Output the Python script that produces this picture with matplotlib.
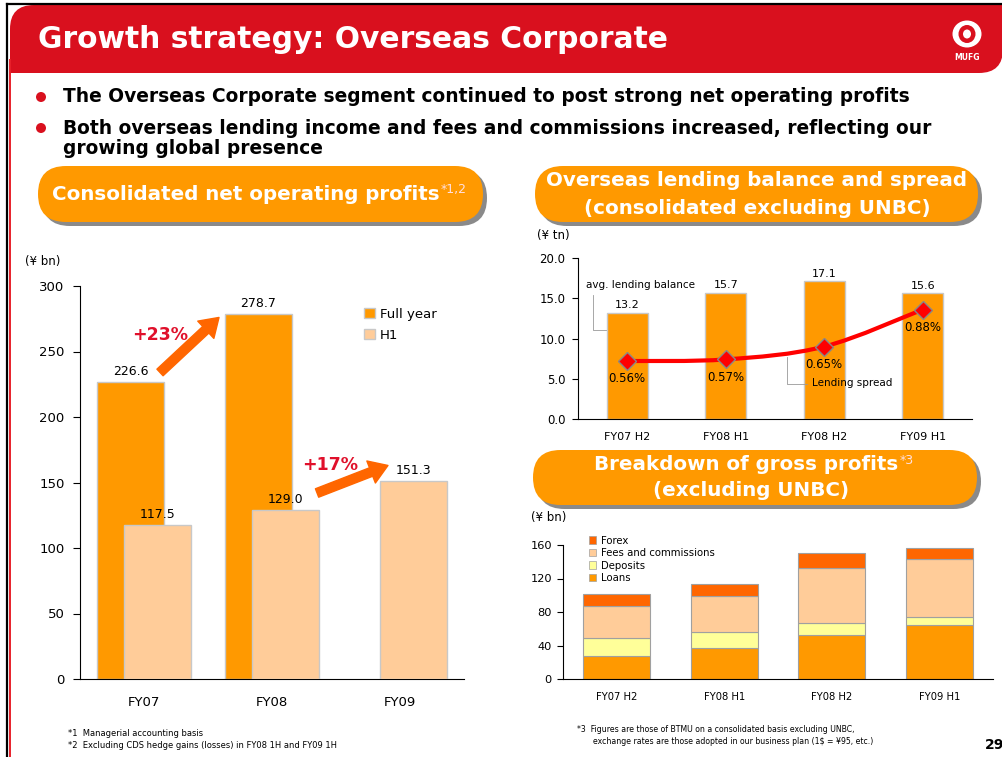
import matplotlib
matplotlib.use("Agg")
import matplotlib.pyplot as plt
from matplotlib.patches import FancyBboxPatch, Rectangle, Ellipse, Circle, Patch
from matplotlib.path import Path
from matplotlib.patches import PathPatch
import numpy as np

W, H = 1003, 757

# ---- data ----
years = ["FY07", "FY08", "FY09"]
full_year = [226.6, 278.7, np.nan]
first_half = [117.5, 129.0, 151.3]

periods = ["FY07 H2", "FY08 H1", "FY08 H2", "FY09 H1"]
lending_balance = [13.2, 15.7, 17.1, 15.6]
lending_spread = [0.56, 0.57, 0.65, 0.88]

gp_loans = [28, 37, 53, 65]
gp_deposits = [21, 19, 14, 9]
gp_fees = [38, 43, 65, 69]
gp_forex = [14, 14, 19, 14]

RED = "#D9101E"
ORANGE = "#FF9900"
PEACH = "#FFCC99"
YELLOW = "#FFFF99"
DARK_ORANGE = "#FF6600"
PCT_RED = "#E0102B"
EDGE = "#C8C8C8"

plt.rcParams["font.family"] = "DejaVu Sans"

fig = plt.figure(figsize=(W / 100, H / 100), dpi=100)
renderer = fig.canvas.get_renderer()

# overlay in pixel coordinates (y down)
ov = fig.add_axes([0, 0, 1, 1], zorder=0)
ov.set_xlim(0, W)
ov.set_ylim(H, 0)
ov.axis("off")


def px_rect(x0, y_top, x1, y_bot):
    return [x0 / W, 1 - y_bot / H, (x1 - x0) / W, (y_bot - y_top) / H]


def fit(t, width_px):
    bb = t.get_window_extent(renderer)
    t.set_fontsize(t.get_fontsize() * width_px / bb.width)
    return t.get_fontsize()


# frame lines
ov.plot([7, W], [4, 4], color="black", lw=1.6)
ov.plot([7, 7], [4, H], color="black", lw=1.6)
ov.plot([10.5, 10.5], [60, H], color="#E8202A", lw=1.4)

# header band
ov.add_patch(FancyBboxPatch((10, 5), W - 10, 68, boxstyle="round,pad=0,rounding_size=24",
                            fc=RED, ec="none"))
ov.add_patch(Rectangle((960, 5), W - 960, 40, fc=RED, ec="none"))
ov.add_patch(Rectangle((10, 40), 40, 33, fc=RED, ec="none"))
title = ov.text(38, 40, "Growth strategy: Overseas Corporate", color="white",
                fontsize=20, fontweight="bold", va="center", ha="left")
fit(title, 630)

# logo
ov.add_patch(Ellipse((967, 34), 29, 27, fc="white", ec="none"))
ov.add_patch(Ellipse((967, 34), 17, 18, fc=RED, ec="none"))
ov.add_patch(Ellipse((967, 34), 8, 9, fc="white", ec="none"))
ov.text(967, 57, "MUFG", color="white", fontsize=5.5, fontweight="bold",
        ha="center", va="center")

# bullets
for yy in (97, 128):
    ov.add_patch(Circle((41, yy), 5, fc=RED, ec="none"))
b1 = ov.text(63, 97, "The Overseas Corporate segment continued to post strong net operating profits",
             fontsize=13, fontweight="bold", va="center")
bs = fit(b1, 839)
ov.text(63, 128, "Both overseas lending income and fees and commissions increased, reflecting our",
        fontsize=bs, fontweight="bold", va="center")
ov.text(63, 149, "growing global presence", fontsize=bs, fontweight="bold", va="center")


def pill(x0, y0, x1, y1):
    h = y1 - y0
    ov.add_patch(FancyBboxPatch((x0 + 4, y0 + 4), x1 - x0, h,
                                boxstyle=f"round,pad=0,rounding_size={h / 2}",
                                fc="#8A8A8A", ec="none"))
    ov.add_patch(FancyBboxPatch((x0, y0), x1 - x0, h,
                                boxstyle=f"round,pad=0,rounding_size={h / 2}",
                                fc=ORANGE, ec="none"))


def superscript(t, s):
    bb = t.get_window_extent(renderer)
    ov.text(bb.x1 + 1, H - bb.y1 - 1, s, color="#FFE0E0", fontsize=9, va="top", ha="left")


pill(38, 166, 483, 222)
t1 = ov.text(52, 194, "Consolidated net operating profits", color="white",
             fontsize=13, fontweight="bold", va="center", ha="left")
ps = fit(t1, 385)
superscript(t1, "*1,2")

pill(535, 166, 978, 222)
t2 = ov.text(757, 181, "Overseas lending balance and spread", color="white",
             fontsize=13, fontweight="bold", va="center", ha="center")
ps2 = fit(t2, 418)
ov.text(757, 208, "(consolidated excluding UNBC)", color="white",
        fontsize=ps2, fontweight="bold", va="center", ha="center")

pill(533, 450, 977, 505)
t3 = ov.text(594, 465, "Breakdown of gross profits", color="white",
             fontsize=ps2, fontweight="bold", va="center", ha="left")
superscript(t3, "*3")
ov.text(751, 491, "(excluding UNBC)", color="white",
        fontsize=ps2, fontweight="bold", va="center", ha="center")

# unit labels and footnotes
ov.text(25, 262, "(¥ bn)", fontsize=8.5, va="center")
ov.text(537, 235, "(¥ tn)", fontsize=8.5, va="center")
ov.text(531, 518, "(¥ bn)", fontsize=8.5, va="center")
ov.text(68, 733, "*1  Managerial accounting basis", fontsize=6, va="center")
ov.text(68, 745, "*2  Excluding CDS hedge gains (losses) in FY08 1H and FY09 1H", fontsize=6, va="center")
ov.text(577, 729, "*3  Figures are those of BTMU on a consolidated basis excluding UNBC,",
        fontsize=5.6, va="center")
ov.text(593, 741, "exchange rates are those adopted in our business plan (1$ = ¥95, etc.)",
        fontsize=5.6, va="center")
ov.text(985, 745, "29", fontsize=10, fontweight="bold", va="center")

# ---- left chart: consolidated net operating profits ----
ax1 = fig.add_axes(px_rect(80, 286, 464, 679), zorder=1)
ax1.patch.set_alpha(0)
x = np.arange(len(years))
bw = 0.53
off = 0.105
ax1.bar(x - off, full_year, bw, color=ORANGE, edgecolor=EDGE, lw=1, zorder=2)
ax1.bar(x + off, first_half, bw, color=PEACH, edgecolor=EDGE, lw=1, zorder=3)
for xi, v in zip(x, full_year):
    if not np.isnan(v):
        ax1.annotate(f"{v:.1f}", (xi - off, v), xytext=(0, 3), textcoords="offset points",
                     ha="center", va="bottom", fontsize=9)
for xi, v in zip(x, first_half):
    ax1.annotate(f"{v:.1f}", (xi + off, v), xytext=(0, 3), textcoords="offset points",
                 ha="center", va="bottom", fontsize=9, zorder=4)
ax1.set_xlim(-0.5, 2.5)
ax1.set_ylim(0, 300)
ax1.set_yticks(range(0, 301, 50))
ax1.set_xticks(x)
ax1.set_xticklabels(years)
ax1.tick_params(axis="x", length=0, pad=12, labelsize=9.5)
ax1.tick_params(axis="y", length=5, direction="out", labelsize=9.5, pad=6)
for s in ("top", "right"):
    ax1.spines[s].set_visible(False)
ax1.legend(handles=[Patch(fc=ORANGE, ec=EDGE), Patch(fc=PEACH, ec=EDGE)],
           labels=["Full year", "H1"], loc="upper left", bbox_to_anchor=(0.74, 0.945),
           frameon=False, fontsize=9.5, handlelength=0.8, handleheight=0.8,
           handletextpad=0.4, labelspacing=0.6, borderpad=0, borderaxespad=0)

arrow_style = "simple,head_width=1.7,head_length=1.3,tail_width=0.65"
ax1.annotate("", xy=(0.586, 276), xytext=(0.125, 234),
             arrowprops=dict(arrowstyle=arrow_style, color=DARK_ORANGE, mutation_scale=10,
                             shrinkA=0, shrinkB=0), zorder=5)
ax1.annotate("", xy=(1.906, 163), xytext=(1.352, 142),
             arrowprops=dict(arrowstyle=arrow_style, color=DARK_ORANGE, mutation_scale=10,
                             shrinkA=0, shrinkB=0), zorder=5)
ax1.text(0.125, 262.5, "+23%", color=PCT_RED, fontsize=12.5, fontweight="bold",
         ha="center", va="center", zorder=5)
ax1.text(1.453, 163.5, "+17%", color=PCT_RED, fontsize=12.5, fontweight="bold",
         ha="center", va="center", zorder=5)

# ---- top right: lending balance and spread ----
ax2 = fig.add_axes(px_rect(578, 258, 972, 419), zorder=1)
ax2.patch.set_alpha(0)
xp = np.arange(len(periods))
ax2.bar(xp, lending_balance, 0.42, color=ORANGE, edgecolor=EDGE, lw=1, zorder=2)
for xi, v in zip(xp, lending_balance):
    ax2.annotate(f"{v:.1f}", (xi, v), xytext=(0, 2), textcoords="offset points",
                 ha="center", va="bottom", fontsize=8)
ax2.set_xlim(-0.5, 3.5)
ax2.set_ylim(0, 20)
ax2.set_yticks(np.arange(0, 20.1, 5))
ax2.set_yticklabels([f"{v:.1f}" for v in np.arange(0, 20.1, 5)])
ax2.set_xticks(xp)
ax2.set_xticklabels(periods)
ax2.tick_params(axis="x", length=0, pad=9, labelsize=8)
ax2.tick_params(axis="y", length=4, direction="out", labelsize=8.5, pad=5)
for s in ("top", "right"):
    ax2.spines[s].set_visible(False)
ax2.text(-0.42, 16.6, "avg. lending balance", fontsize=7.5, ha="left", va="center")
ax2.plot([-0.349, -0.349, -0.215], [15.4, 11.06, 11.06], color="#999999", lw=0.6)
ax2.text(1.876, 4.47, "Lending spread", fontsize=7.5, ha="left", va="center")
ax2.plot([1.62, 1.62, 1.824], [7.7, 4.35, 4.35], color="#999999", lw=0.6)

ax2b = ax2.twinx()
ax2b.set_ylim(0.2, 1.2)
ax2b.axis("off")
# smooth curve through the spread points (Catmull-Rom as cubic Bezier)
pts = np.column_stack([xp, lending_spread]).astype(float)
verts = [tuple(pts[0])]
codes = [Path.MOVETO]
for i in range(len(pts) - 1):
    p0 = pts[max(i - 1, 0)]
    p1, p2 = pts[i], pts[i + 1]
    p3 = pts[min(i + 2, len(pts) - 1)]
    c1 = p1 + (p2 - p0) / 6
    c2 = p2 - (p3 - p1) / 6
    verts += [tuple(c1), tuple(c2), tuple(p2)]
    codes += [Path.CURVE4] * 3
ax2b.add_patch(PathPatch(Path(verts, codes), fc="none", ec="#FF0000", lw=3, zorder=3))
ax2b.plot(xp, lending_spread, ls="none", marker="D", ms=9, mfc="#FF0000", mec="#888888",
          mew=1, zorder=4)
for xi, v in zip(xp, lending_spread):
    ax2b.annotate(f"{v:.2f}%", (xi, v), xytext=(0, -8), textcoords="offset points",
                  ha="center", va="top", fontsize=8.5, zorder=5)

# ---- bottom right: breakdown of gross profits ----
ax3 = fig.add_axes(px_rect(563, 545, 993, 679), zorder=1)
ax3.patch.set_alpha(0)
bw3 = 0.62
bottom = np.zeros(len(periods))
stack = [("Loans", gp_loans, ORANGE), ("Deposits", gp_deposits, YELLOW),
         ("Fees and commissions", gp_fees, PEACH), ("Forex", gp_forex, DARK_ORANGE)]
handles = []
for name, vals, col in stack:
    ax3.bar(xp, vals, bw3, bottom=bottom, color=col, edgecolor="#A0A0A0", lw=0.8, zorder=2)
    bottom += np.array(vals)
    handles.append(Patch(fc=col, ec="#A0A0A0", lw=0.5, label=name))
ax3.set_xlim(-0.5, 3.5)
ax3.set_ylim(0, 160)
ax3.set_yticks(range(0, 161, 40))
ax3.set_xticks(xp)
ax3.set_xticklabels(periods)
ax3.tick_params(axis="x", length=0, pad=9, labelsize=7.2)
ax3.tick_params(axis="y", length=4, direction="out", labelsize=8.2, pad=4)
for s in ("top", "right"):
    ax3.spines[s].set_visible(False)
ax3.legend(handles=handles[::-1], loc="upper left", bbox_to_anchor=(0.06, 1.07),
           frameon=False, fontsize=7.3, handlelength=0.75, handleheight=0.75,
           handletextpad=0.5, labelspacing=0.25, borderpad=0, borderaxespad=0)

fig.savefig("out.png", dpi=100)
